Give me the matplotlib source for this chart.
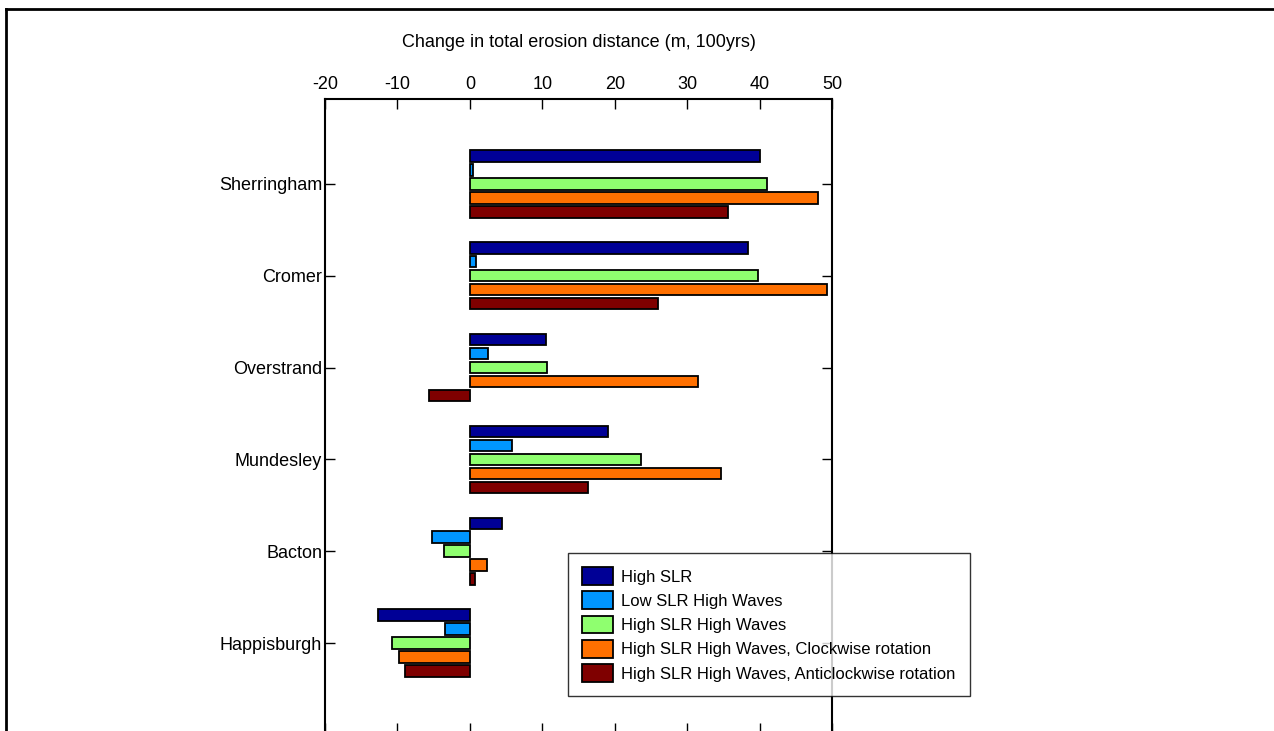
import matplotlib
matplotlib.use("Agg")
import matplotlib.pyplot as plt
from matplotlib.lines import Line2D
import numpy as np

plt.rcParams['font.family'] = ['Liberation Sans', 'DejaVu Sans']
plt.rcParams['axes.unicode_minus'] = False

sites = ["Sherringham", "Cromer", "Overstrand", "Mundesley", "Bacton", "Happisburgh"]
series_names = ["High SLR", "Low SLR High Waves", "High SLR High Waves",
                "High SLR High Waves, Clockwise rotation",
                "High SLR High Waves, Anticlockwise rotation"]
high_slr = [40.0, 38.4, 10.5, 19.1, 4.4, -12.7]
low_slr_high_waves = [0.5, 0.8, 2.5, 5.8, -5.2, -3.4]
high_slr_high_waves = [41.0, 39.8, 10.7, 23.6, -3.6, -10.8]
clockwise = [48.0, 49.3, 31.5, 34.7, 2.3, -9.8]
anticlockwise = [35.6, 26.0, -5.7, 16.3, 0.65, -8.9]
colors = ["#000096", "#0096FF", "#8FFF6F", "#FF7000", "#7F0000"]
xticks = [-20, -10, 0, 10, 20, 30, 40, 50]
xlabel = "Change in total erosion distance (m, 100yrs)"

W, H = 1274, 731
fig = plt.figure(figsize=(W / 100, H / 100), dpi=100)

# figure border (top and left edges visible)
fig.lines.append(Line2D([6 / W, 1.01], [1 - 9 / H, 1 - 9 / H], transform=fig.transFigure,
                        color='black', linewidth=2))
fig.lines.append(Line2D([6 / W, 6 / W], [1 - 9 / H, -0.01], transform=fig.transFigure,
                        color='black', linewidth=2))

ax = fig.add_axes([325 / W, 1 - 733 / H, (832 - 325) / W, (733 - 99) / H])

data = [high_slr, low_slr_high_waves, high_slr_high_waves, clockwise, anticlockwise]
y = np.arange(len(sites))
step = 0.152
for i, (vals, c, name) in enumerate(zip(data, colors, series_names)):
    ax.barh(y + (i - 2) * step, vals, height=0.125, color=c, edgecolor='black',
            linewidth=1.3, label=name, zorder=3)

ax.set_xlim(-20, 50)
ax.set_ylim(5.98, -0.924)
ax.set_xticks(xticks)
ax.set_yticks(y)
ax.set_yticklabels(sites)
ax.tick_params(axis='both', direction='in', length=7, width=1, labelsize=13,
               top=True, right=True, bottom=True, left=True,
               labeltop=True, labelbottom=False)
ax.tick_params(axis='x', pad=4)
ax.tick_params(axis='y', pad=2)
for s in ax.spines.values():
    s.set_linewidth(1.5)
ax.xaxis.set_label_position('top')
ax.set_xlabel(xlabel, fontsize=13, labelpad=21)

leg = fig.legend(loc='upper left', bbox_to_anchor=(568 / W, 1 - 553 / H),
                 fontsize=12, frameon=True, fancybox=False, borderpad=0.85,
                 handlelength=1.85, handleheight=1.25, labelspacing=0.4,
                 handletextpad=0.5, borderaxespad=0)
leg.get_frame().set_edgecolor('black')
leg.get_frame().set_linewidth(1.0)

fig.savefig("out.png", dpi=100)
